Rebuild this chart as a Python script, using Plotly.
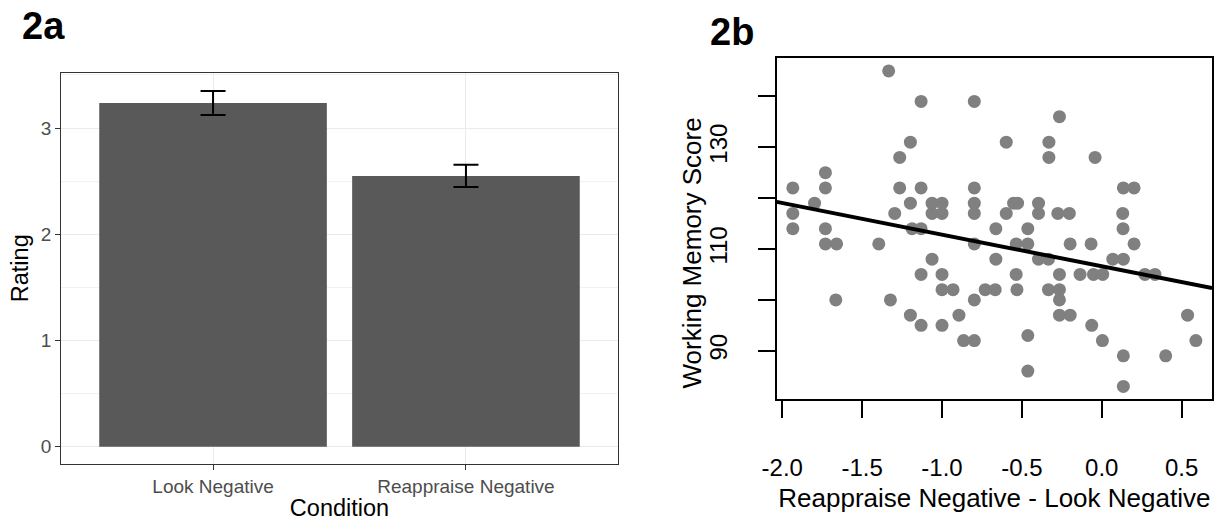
import plotly.graph_objects as go

# ---------------- data ----------------
conditions = ["Look Negative", "Reappraise Negative"]
mean_rating = [3.236, 2.549]
se_rating = [0.113, 0.105]

diff_score = [-1.334, -1.131, -0.798, -0.265, -1.198, -0.598, -0.331, -1.265, -0.331, -0.042,
              -1.73, -1.934, -1.73, -1.265, -1.131, -0.798, 0.135, 0.202,
              -1.798, -1.198, -1.0625, -1.0, -0.798, -0.552, -0.527, -0.396,
              -1.934, -1.296, -1.0625, -1.0, -0.798, -0.598, -0.396, -0.275, -0.203, 0.131,
              -1.934, -1.73, -1.1875, -1.131, -0.663, -0.463, 0.133,
              -1.73, -1.66, -1.396, -0.798, -0.536, -0.463, -0.198, -0.067, 0.202,
              -1.0625, -0.663, -0.396, -0.334, 0.069, 0.135,
              -1.131, -1.0, -0.536, -0.265, -0.136, -0.052, 0.006, 0.27, 0.333,
              -1.0, -0.931, -0.73, -0.667, -0.531, -0.334, -0.265,
              -1.665, -1.323, -0.798, -0.265,
              -1.198, -0.894, -0.265, -0.198, 0.537,
              -1.131, -1.0, -0.063,
              -0.865, -0.798, 0.004, 0.589, -0.463,
              0.135, 0.40, -0.463, 0.135]
wm_score = [145, 139, 139, 136, 131, 131, 131, 128, 128, 128,
            125, 122, 122, 122, 122, 122, 122, 122,
            119, 119, 119, 119, 119, 119, 119, 119,
            117, 117, 117, 117, 117, 117, 117, 117, 117, 117,
            114, 114, 114, 114, 114, 114, 114,
            111, 111, 111, 111, 111, 111, 111, 111, 111,
            108, 108, 108, 108, 108, 108,
            105, 105, 105, 105, 105, 105, 105, 105, 105,
            102, 102, 102, 102, 102, 102, 102,
            100, 100, 100, 100,
            97, 97, 97, 97, 97,
            95, 95, 95,
            92, 92, 92, 92, 93,
            89, 89, 86, 83]

fit_intercept = 106.6
fit_slope = -6.22

left_yticks = [0, 1, 2, 3]
right_xticks = [-2.0, -1.5, -1.0, -0.5, 0.0, 0.5]
right_xticklabels = ["-2.0", "-1.5", "-1.0", "-0.5", "0.0", "0.5"]
right_yticks = [90, 100, 110, 120, 130, 140]
right_yticklabels = ["90", "", "110", "", "130", ""]

# ---------------- figure ----------------
W, H = 1218, 521
FONT = "Liberation Sans, Arial, sans-serif"

fig = go.Figure()

fig.add_trace(go.Bar(
    x=conditions, y=mean_rating, width=0.9,
    marker=dict(color="#595959", line=dict(width=0)),
    error_y=dict(type="data", array=se_rating, color="black", thickness=2, width=12.5),
    xaxis="x", yaxis="y", showlegend=False,
))

# R-style expanded ranges (4%)
xmin, xmax = min(diff_score), max(diff_score)
ymin, ymax = min(wm_score), max(wm_score)
xr = [xmin - 0.04 * (xmax - xmin), xmax + 0.04 * (xmax - xmin)]
yr = [ymin - 0.04 * (ymax - ymin), ymax + 0.04 * (ymax - ymin)]

fig.add_trace(go.Scatter(
    x=diff_score, y=wm_score, mode="markers",
    marker=dict(color="#808080", size=13, line=dict(width=0)),
    xaxis="x2", yaxis="y2", showlegend=False,
))
fig.add_trace(go.Scatter(
    x=xr, y=[fit_intercept + fit_slope * v for v in xr], mode="lines",
    line=dict(color="black", width=4),
    xaxis="x2", yaxis="y2", showlegend=False,
))

def px_x(p):
    return p / W

def px_y(p):
    return 1 - p / H

fig.update_layout(
    width=W, height=H,
    margin=dict(l=0, r=0, t=0, b=0, autoexpand=False),
    paper_bgcolor="white", plot_bgcolor="white",
    font=dict(family=FONT, color="black"),
    xaxis=dict(
        domain=[px_x(61.3), px_x(617.7)], anchor="y", automargin=False,
        type="category", range=[-0.6, 1.6],
        showline=True, mirror=True, linecolor="#333333", linewidth=1.2,
        ticks="outside", ticklen=5, tickwidth=1.2, tickcolor="#333333",
        tickfont=dict(size=19, color="#4D4D4D"),
        showgrid=True, gridcolor="#EBEBEB", gridwidth=1.1, zeroline=False,
        title=dict(text="Condition", font=dict(size=23.5, color="black"), standoff=5),
    ),
    yaxis=dict(
        domain=[px_y(464), px_y(72.5)], anchor="x", automargin=False,
        range=[-0.163, 3.523], tickvals=left_yticks,
        showline=True, mirror=True, linecolor="#333333", linewidth=1.2,
        ticks="outside", ticklen=5, tickwidth=1.2, tickcolor="#333333",
        tickfont=dict(size=19, color="#4D4D4D"),
        showgrid=True, gridcolor="#EBEBEB", gridwidth=1.1, zeroline=False,
        minor=dict(dtick=0.5, showgrid=True, gridcolor="#F2F2F2", gridwidth=0.8, ticks=""),
        title=dict(text="Rating", font=dict(size=23.5, color="black"), standoff=5),
    ),
    xaxis2=dict(
        domain=[px_x(776.7), px_x(1212)], anchor="y2", automargin=False,
        range=xr, tickvals=right_xticks, ticktext=right_xticklabels,
        showline=True, mirror=True, linecolor="black", linewidth=1.5,
        ticks="outside", ticklen=17, tickwidth=1.5, tickcolor="black",
        tickfont=dict(size=24, color="black"), ticklabelstandoff=29,
        showgrid=False, zeroline=False,
        title=dict(text="Reappraise Negative - Look Negative", font=dict(size=26, color="black"), standoff=9),
    ),
    yaxis2=dict(
        domain=[px_y(399), px_y(58.3)], anchor="x2", automargin=False,
        range=yr, tickvals=right_yticks, ticktext=right_yticklabels, tickangle=-90,
        showline=True, mirror=True, linecolor="black", linewidth=1.5,
        ticks="outside", ticklen=17, tickwidth=1.5, tickcolor="black",
        tickfont=dict(size=24, color="black"), ticklabelstandoff=21,
        showgrid=False, zeroline=False,
    ),
    annotations=[
        dict(text="<b>2a</b>", x=px_x(20), y=px_y(26), xref="paper", yref="paper",
             xanchor="left", yanchor="middle", showarrow=False,
             font=dict(size=38, color="black", family=FONT)),
        dict(text="<b>2b</b>", x=px_x(708), y=px_y(31.5), xref="paper", yref="paper",
             xanchor="left", yanchor="middle", showarrow=False,
             font=dict(size=38, color="black", family=FONT)),
        dict(text="Working Memory Score", x=px_x(691), y=px_y(253.5), xref="paper", yref="paper",
             xanchor="center", yanchor="middle", textangle=-90, showarrow=False,
             font=dict(size=26, color="black", family=FONT)),
    ],
)

fig.write_html("out.html", config={"displayModeBar": False},
               post_script="document.body.style.margin='0px';")
